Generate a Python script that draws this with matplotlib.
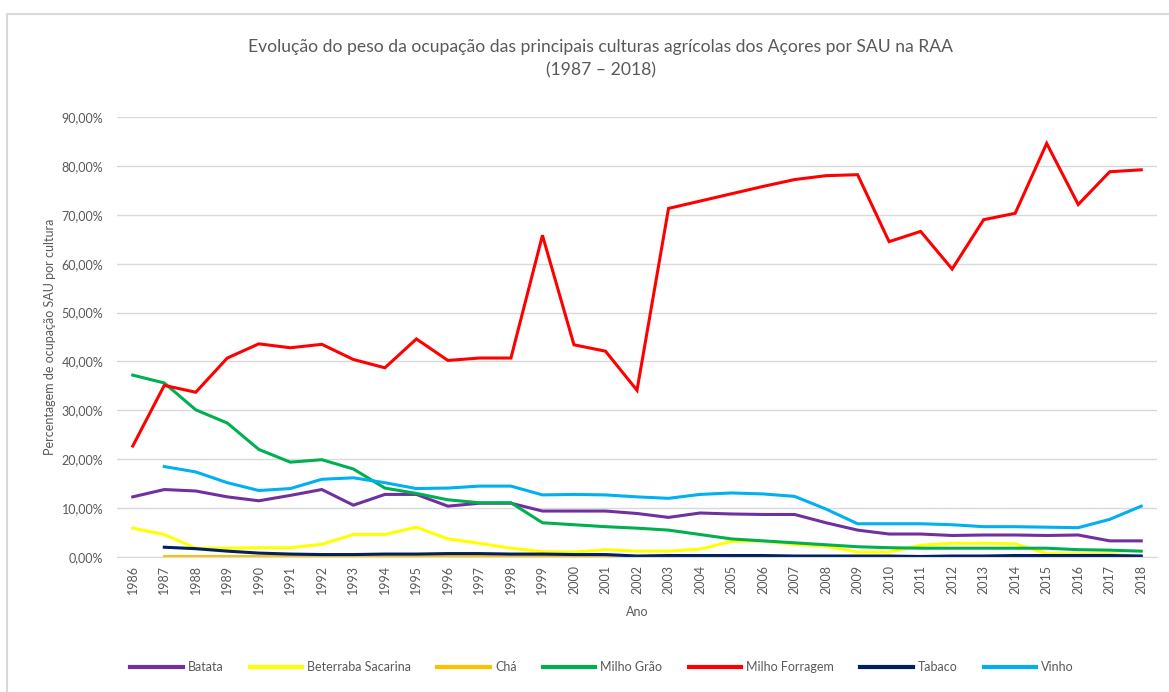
import numpy as np
import matplotlib
matplotlib.use('Agg')
import matplotlib.pyplot as plt
from matplotlib.patches import Rectangle
from matplotlib.ticker import FuncFormatter

plt.rcParams['font.family'] = ['Lato', 'DejaVu Sans']

# Dados (percentagem da SAU ocupada por cultura)
anos = list(range(1986, 2019))
nan = np.nan

batata = [12.3, 13.8, 13.5, 12.3, 11.5, 12.6, 13.8, 10.6, 12.8, 12.8, 10.4, 11.0, 11.0,
          9.4, 9.4, 9.4, 8.9, 8.1, 9.0, 8.8, 8.7, 8.7, 7.0, 5.5, 4.7, 4.7, 4.4, 4.5,
          4.5, 4.4, 4.5, 3.3, 3.3]
beterraba = [5.9, 4.6, 1.8, 1.8, 1.9, 1.9, 2.6, 4.6, 4.6, 6.1, 3.7, 2.8, 1.8,
             1.1, 1.0, 1.5, 1.2, 1.2, 1.6, 3.2, 3.3, 2.6, 2.2, 1.0, 1.0, 2.4, 2.8, 2.8,
             2.7, 0.7, 0.6, 0.6, 0.0]
cha = [nan, 0.3, 0.3, 0.3, 0.3, 0.3, 0.3, 0.3, 0.3, 0.3, 0.3, 0.3, 0.3,
       0.3, 0.3, 0.3, 0.3, 0.3, 0.3, 0.3, 0.3, 0.3, 0.3, 0.3, 0.3, 0.3, 0.3, 0.3,
       0.3, 0.3, 0.3, 0.3, 0.3]
milho_grao = [37.2, 35.6, 30.1, 27.4, 22.0, 19.4, 19.9, 18.0, 14.1, 13.0, 11.7, 11.1, 11.1,
              7.0, 6.6, 6.2, 5.9, 5.5, 4.6, 3.7, 3.3, 2.9, 2.5, 2.1, 1.9, 1.8, 1.8, 1.8,
              1.8, 1.8, 1.5, 1.4, 1.2]
milho_forragem = [22.7, 35.1, 33.7, 40.7, 43.6, 42.8, 43.5, 40.4, 38.7, 44.6, 40.2, 40.7, 40.7,
                  65.8, 43.4, 42.1, 34.1, 71.3, 72.8, 74.3, 75.8, 77.2, 78.0, 78.2, 64.5, 66.6,
                  58.9, 69.0, 70.3, 84.6, 72.1, 78.8, 79.2]
tabaco = [nan, 2.0, 1.7, 1.2, 0.8, 0.6, 0.5, 0.5, 0.6, 0.6, 0.7, 0.7, 0.6,
          0.6, 0.5, 0.5, 0.2, 0.3, 0.3, 0.3, 0.3, 0.2, 0.2, 0.2, 0.2, 0.1, 0.2, 0.2,
          0.3, 0.3, 0.3, 0.3, 0.2]
vinho = [nan, 18.5, 17.4, 15.2, 13.6, 14.0, 15.9, 16.2, 15.2, 14.0, 14.1, 14.5, 14.5,
         12.7, 12.8, 12.7, 12.3, 12.0, 12.8, 13.1, 12.9, 12.4, 9.8, 6.8, 6.8, 6.8, 6.6,
         6.2, 6.2, 6.1, 6.0, 7.7, 10.4]

series = [
    ('Batata', batata, '#7030A0'),
    ('Beterraba Sacarina', beterraba, '#FFFF00'),
    ('Chá', cha, '#FFC000'),
    ('Milho Grão', milho_grao, '#00B050'),
    ('Milho Forragem', milho_forragem, '#FF0000'),
    ('Tabaco', tabaco, '#002060'),
    ('Vinho', vinho, '#00B0F0'),
]

cinza = '#595959'

fig = plt.figure(figsize=(11.69, 6.92), dpi=100)
ax = fig.add_axes([117 / 1169, 1 - 557 / 692, (1157 - 117) / 1169, (557 - 117) / 692])

# moldura do gráfico (só se vê à esquerda e em cima)
fig.patches.append(Rectangle((7 / 1169, -0.05), 1.1, 1 - 14 / 692 + 0.05,
                             transform=fig.transFigure, fill=False,
                             edgecolor='#D9D9D9', linewidth=1.5))

for nome, valores, cor in series:
    ax.plot(anos, np.array(valores) / 100, color=cor, linewidth=2.2, label=nome,
            solid_joinstyle='miter')

ax.set_xlim(1985.5, 2018.5)
ax.set_ylim(0, 0.9)
ax.set_yticks(np.arange(0, 0.91, 0.1))
ax.yaxis.set_major_formatter(FuncFormatter(lambda v, p: f'{v * 100:.2f}%'.replace('.', ',')))
ax.set_xticks(anos)
ax.set_xticklabels([str(a) for a in anos], rotation=90)

ax.grid(axis='y', color='#D9D9D9', linewidth=1)
ax.set_axisbelow(True)
for lado in ['top', 'right', 'left']:
    ax.spines[lado].set_visible(False)
ax.spines['bottom'].set_color('#D9D9D9')
ax.tick_params(axis='both', length=0, colors=cinza, labelsize=9)
ax.tick_params(axis='x', pad=6)
ax.tick_params(axis='y', pad=10)

ax.set_xlabel('Ano', color=cinza, fontsize=9, labelpad=8)
ax.set_ylabel('Percentagem de ocupação SAU por cultura', color=cinza, fontsize=9, labelpad=4)

fig.text(601 / 1169, 1 - 47 / 692, 'Evolução do peso da ocupação das principais culturas agrícolas dos Açores por SAU na RAA',
         ha='center', va='center', color=cinza, fontsize=12.6)
fig.text(601 / 1169, 1 - 70 / 692, '(1987 – 2018)', ha='center', va='center', color=cinza, fontsize=12.6)

leg = fig.legend(loc='center', bbox_to_anchor=(602 / 1169, 1 - 667 / 692), ncol=7, frameon=False,
                 fontsize=9, handlelength=4.2, columnspacing=2.1, handletextpad=0.4)
for t in leg.get_texts():
    t.set_color(cinza)
for l in leg.get_lines():
    l.set_linewidth(3)

fig.savefig('out.png', dpi=100)
